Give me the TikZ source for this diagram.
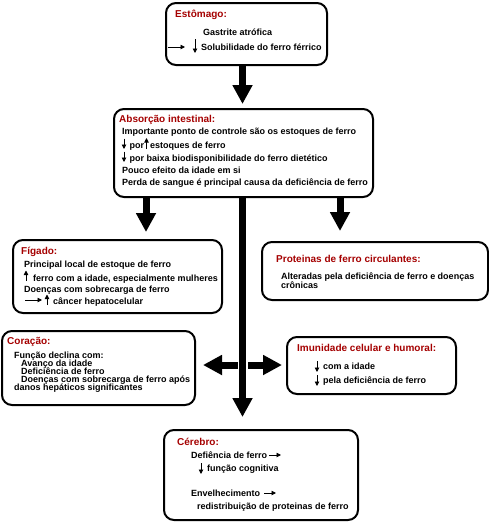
\documentclass[tikz,border=0pt]{standalone}
\usepackage{fontspec}
\setmainfont{Liberation Sans}
\usetikzlibrary{arrows.meta,calc}
\definecolor{titlered}{RGB}{165,0,0}
\begin{document}
\begin{tikzpicture}[x=1pt,y=-1pt,
  box/.style={draw, line width=2pt, rounded corners=10pt, inner sep=0pt},
  ttl/.style={anchor=base west, inner sep=0pt, text=titlered, font=\fontsize{10}{12}\selectfont\bfseries},
  txt/.style={anchor=base west, inner sep=0pt, font=\fontsize{9}{10}\selectfont\bfseries},
  bigarrow/.style={line width=7pt, -{Triangle[width=19pt,length=19pt]}},
  smallarrow/.style={line width=0.9pt, -{Triangle[width=4.5pt,length=4.5pt]}}]
\useasboundingbox[fill=white] (0,0) rectangle (489,522);
% boxes
\node[box, minimum width=161, minimum height=62] (est) at (246.5,34) {};
\node[box, minimum width=259, minimum height=88] (abs) at (243.5,153) {};
\node[box, minimum width=209, minimum height=73] (fig) at (117.5,276.5) {};
\node[box, minimum width=226, minimum height=58] (prot) at (375,271) {};
\node[box, minimum width=193, minimum height=74] (cor) at (98.5,368) {};
\node[box, minimum width=169, minimum height=57] (imu) at (371.5,365.5) {};
\node[box, minimum width=194, minimum height=90] (cer) at (261,475) {};
% columns for the thick arrows
\coordinate (colA) at (146,0);
\coordinate (colB) at (242.5,0);
\coordinate (colC) at (340,0);
\coordinate (hub) at (242.5,365);
% thick arrows
\draw[bigarrow, shorten >=4pt] (est.south -| colB) -- (abs.north -| colB);
\draw[bigarrow, shorten >=7pt] (abs.south -| colA) -- (fig.north -| colA);
\draw[bigarrow, shorten >=10pt] (abs.south -| colC) -- (prot.north -| colC);
\draw[bigarrow, shorten >=12pt] (abs.south -| colB) -- (cer.north -| colB);
\draw[bigarrow, shorten <=5pt, shorten >=7pt] (hub) -- (cor.east |- hub);
\draw[bigarrow, shorten <=5.5pt, shorten >=4pt] (hub) -- (imu.west |- hub);
% Estomago
\node[ttl] (estT) at (175,17) {Estômago:};
\node[txt] (est1) at (203,35) {Gastrite atrófica};
\node[txt] (est2) at (201,50) {Solubilidade do ferro férrico};
\draw[smallarrow] (168,47) -- (185,47);
\draw[smallarrow] (195,39) -- (195,53);
% Absorcao
\node[ttl] (absT) at (119,122) {Absorção intestinal:};
\node[txt] (abs1) at (122,134) {Importante ponto de controle são os estoques de ferro};
\draw[smallarrow] (124,138.5) -- (124,149);
\node[txt] (abs2a) at (129.5,148) {por};
\draw[smallarrow] (146.5,149) -- (146.5,138);
\node[txt] (abs2b) at (150,148) {estoques de ferro};
\draw[smallarrow] (124,151.5) -- (124,162);
\node[txt] (abs3) at (129.5,161) {por baixa biodisponibilidade do ferro dietético};
\node[txt] (abs4) at (122,173) {Pouco efeito da idade em si};
\node[txt] (abs5) at (122,185) {Perda de sangue é principal causa da deficiência de ferro};
% Figado
\node[ttl] (figT) at (21,254) {Fígado:};
\node[txt] (fig1) at (24,267) {Principal local de estoque de ferro};
\draw[smallarrow] (26,281) -- (26,270.5);
\node[txt] (fig2) at (33,281) {ferro com a idade, especialmente mulheres};
\node[txt] (fig3) at (24,292) {Doenças com sobrecarga de ferro};
\draw[smallarrow] (25,300) -- (42,300);
\draw[smallarrow] (47,305) -- (47,294.5);
\node[txt] (fig4) at (53,304) {câncer hepatocelular};
% Proteinas
\node[ttl] (protT) at (276,262) {Proteinas de ferro circulantes:};
\node[txt] (prot1) at (281,279) {Alteradas pela deficiência de ferro e doenças};
\node[txt] (prot2) at (281,288) {crônicas};
% Coracao
\node[ttl] (corT) at (7,344) {Coração:};
\node[txt] (cor1) at (14,358) {Função declina com:};
\node[txt] (cor2) at (21,366) {Avanço da idade};
\node[txt] (cor3) at (21,374) {Deficiência de ferro};
\node[txt] (cor4) at (21,382) {Doenças com sobrecarga de ferro após};
\node[txt] (cor5) at (14,390) {danos hepáticos significantes};
% Imunidade
\node[ttl] (imuT) at (297,351) {Imunidade celular e humoral:};
\draw[smallarrow] (317,361) -- (317,372);
\node[txt] (imu1) at (323,369) {com a idade};
\draw[smallarrow] (317,375) -- (317,386);
\node[txt] (imu2) at (323,383) {pela deficiência de ferro};
% Cerebro
\node[ttl] (cerT) at (177,445) {Cérebro:};
\node[txt] (cer1) at (191,458) {Defiência de ferro};
\draw[smallarrow] (269,455) -- (281,455);
\draw[smallarrow] (201,463) -- (201,474);
\node[txt] (cer2) at (207,471) {função cognitiva};
\node[txt] (cer3) at (191,496) {Envelhecimento};
\draw[smallarrow] (264,493) -- (276,493);
\node[txt] (cer4) at (197,509) {redistribuição de proteinas de ferro};
\end{tikzpicture}
\end{document}
